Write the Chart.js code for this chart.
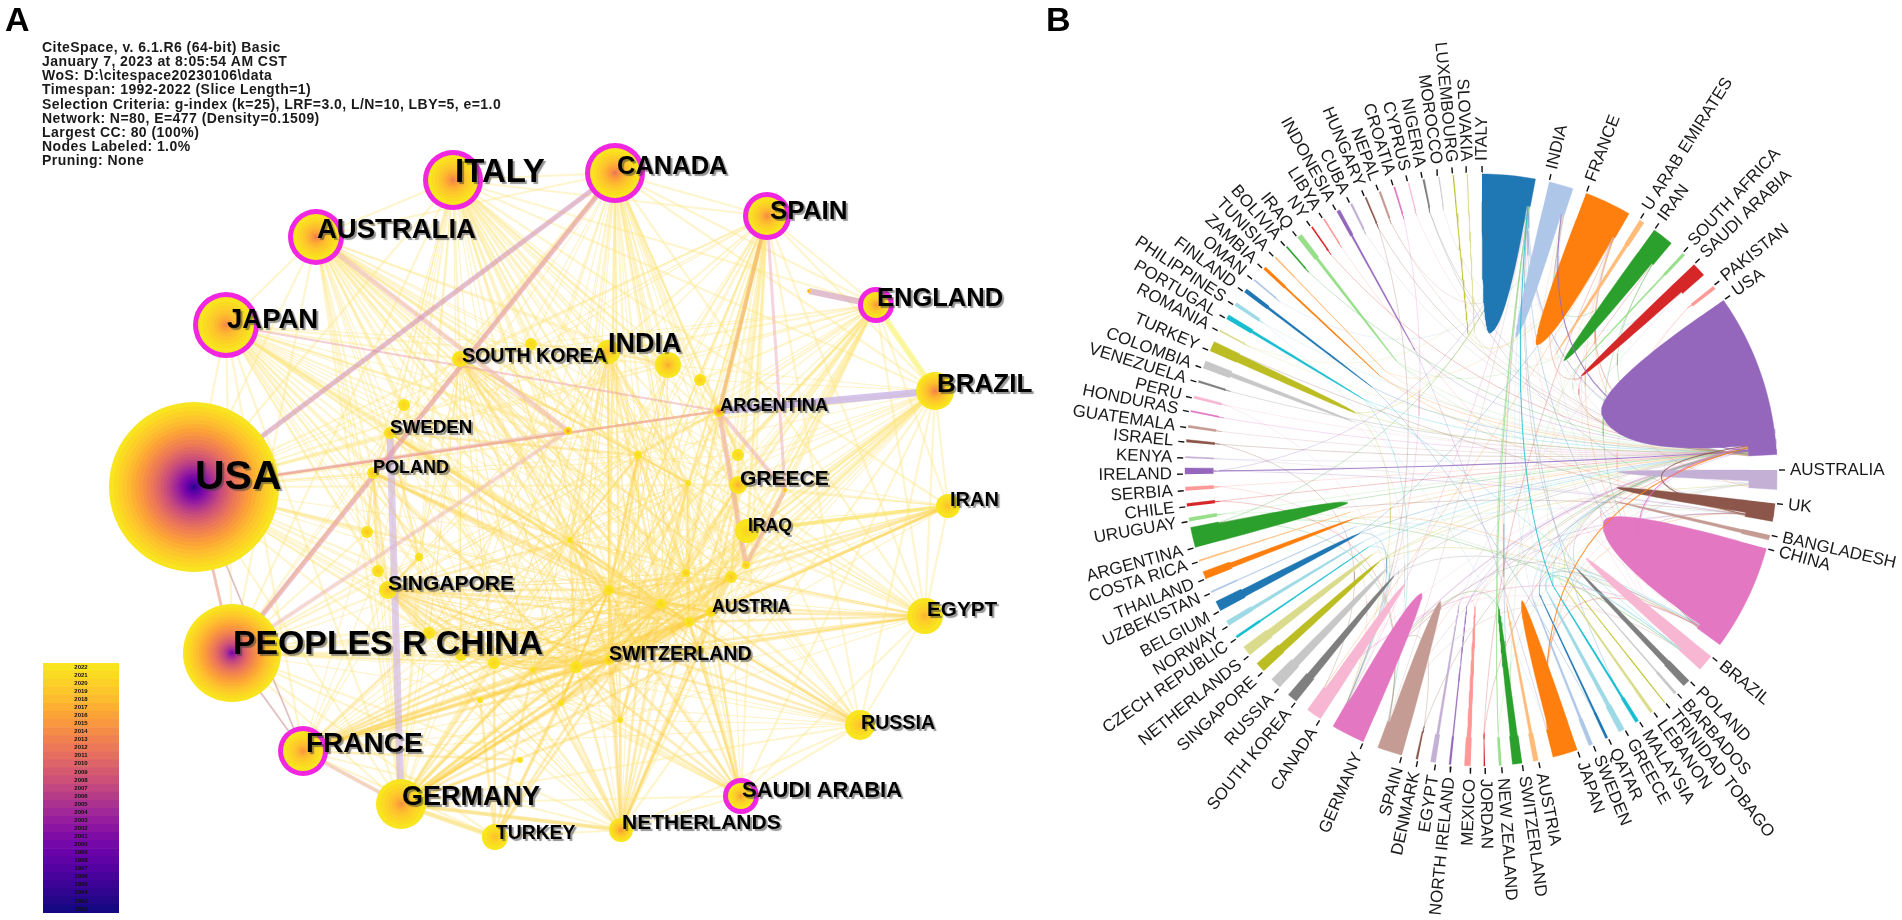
<!DOCTYPE html>
<html>
<head>
<meta charset="utf-8">
<title>Country collaboration</title>
<script src="https://cdn.jsdelivr.net/npm/chart.js@4/dist/chart.umd.js"></script>
<style>
  html, body { margin: 0; padding: 0; background: #fff; overflow: hidden; }
  canvas { position: absolute; display: block; }
  #networkChart { left: 0; top: 0; }
  #yearChart { left: 43px; top: 663px; }
  #chordChart { left: 1000px; top: 0; }
</style>
</head>
<body>
<canvas id="networkChart" width="1040" height="920"></canvas>
<canvas id="yearChart" width="76" height="250"></canvas>
<canvas id="chordChart" width="902" height="920"></canvas>
<script>
// ---- panel A data ----
const infoLines = [
  'CiteSpace, v. 6.1.R6 (64-bit) Basic',
  'January 7, 2023 at 8:05:54 AM CST',
  'WoS: D:\\citespace20230106\\data',
  'Timespan: 1992-2022 (Slice Length=1)',
  'Selection Criteria: g-index (k=25), LRF=3.0, L/N=10, LBY=5, e=1.0',
  'Network: N=80, E=477 (Density=0.1509)',
  'Largest CC: 80 (100%)',
  'Nodes Labeled: 1.0%',
  'Pruning: None'
];
const years = [2022,2021,2020,2019,2018,2017,2016,2015,2014,2013,2012,2011,2010,2009,2008,2007,2006,2005,2004,2003,2002,2001,2000,1999,1998,1997,1996,1995,1994,1993,1992];
const yearColors = ['#f8e51f','#fbdb22','#fdd027','#fdc62c','#fdbb30','#fdaf33','#fca338','#f9983f','#f58d48','#f18250','#ec7858','#e56e60','#dd6468','#d55a70','#cc5078','#c24680','#b73c88','#ac3290','#a12898','#961e9e','#8b14a2','#800ca6','#7508a8','#6a04a8','#5f02a6','#5402a2','#48039c','#3c0496','#300590','#240689','#160882'];

const nodeNames = ['USA','PEOPLES R CHINA','ITALY','CANADA','AUSTRALIA','JAPAN','SPAIN','ENGLAND','BRAZIL','FRANCE','GERMANY','SAUDI ARABIA','NETHERLANDS','TURKEY','RUSSIA','EGYPT','IRAN','IRAQ','GREECE','ARGENTINA','INDIA','SOUTH KOREA','SWEDEN','POLAND','SINGAPORE','SWITZERLAND','AUSTRIA'];
const nodeX = [194,232,453,615,316,226,767,876,935,303,401,741,621,495,860,925,948,747,738,719,608,460,390,373,388,609,711,668,531,700,738,731,686,609,661,689,638,688,746,568,404,367,378,419,429,461,494,576,533,561,640,520,785,570,480,700,620,809];
const nodeY = [487,653,180,173,237,325,216,305,391,751,804,796,830,837,725,616,506,531,485,411,352,359,433,473,590,660,612,365,344,380,455,577,573,590,604,622,455,483,565,431,405,532,571,557,633,655,663,667,670,703,650,760,490,540,700,650,720,291];
const nodeSize = [85,49,30,30,28,33,24,18,19,25,25,18,12,13,15,18,12,12,9,6,12,8,6,6,9,5,5,13,6,6,6,6,4,5,5,5,4,3,4,4,6,6,6,4,6,6,6,6,3,3,4,3,2,3,3,4,3,2];
const nodeFirstYear = [1992,1999,2012,2011,2012,2013,2013,2014,2012,2014,2014,2015,2014,2018,2018,2017,2018,2020,2016,2010,2018,2018,2018,2018,2018,2017,2018,2016,2020,2019,2020,2018,2018,2020,2020,2020,2020,2020,2017,2012,2020,2018,2019,2020,2020,2020,2020,2020,2020,2020,2020,2020,2013,2020,2020,2020,2020,2012];
const hubNodes = [2,3,4,5,6,7,9,11];

const labelX = [195,233,455,617,317,227,770,877,937,306,402,742,622,496,861,927,950,748,740,720,608,462,390,373,388,609,712];
const labelY = [489,654,182,174,238,328,219,306,392,752,805,797,829,839,729,616,506,531,485,411,352,362,433,473,590,660,612];
const labelSize = [41,33.8,33,25.5,27.5,27.5,26,25.5,26,28,27,22,21,19.3,19.6,20.7,20,17.5,21,18.2,27,19.6,18.8,18,21,19.6,17.6];

// one list of neighbours per source node
const linkFrom = [0,1,2,3,4,5,6,7,8,9,10,11,12,13,14,15,16,17,18,19,20,21,22,23,24,25,26,33,34,35,36,47,50];
const linkTo = [
  [2,3,4,5,6,7,8,9,10,1,19,22,23,24,27,20,41,44,12,11,25,18],
  [3,2,4,5,23,24,10,44,45,46,47,25,12,13,51,9,41,42],
  [3,4,6,7,8,10,19,20,21,24,25,26,27,28,33,34,35,36,47,50,53,17,18,16,15,14],
  [4,6,7,8,10,19,21,22,23,25,26,27,33,34,35,50,53,12,17,18,15,14,11],
  [5,10,21,22,23,24,25,33,34,35,36,39,47,50,53,12,26,27,48,18,17,14,15],
  [21,22,23,24,25,33,34,35,36,39,47,50,53,12,10,26,27,48,9,15],
  [7,8,19,20,17,18,25,26,33,34,35,50,38,31,30,12,10,14,15,11],
  [8,19,20,29,30,31,33,34,35,38,25,26,12,10,17,18,16,15],
  [15,16,17,18,19,26,31,34,35,50,14,25,12,10,11,38],
  [10,25,33,34,35,50,46,47,48,13,12,24,44,51,55,26],
  [12,13,25,33,34,35,46,47,48,49,50,51,54,55,56,24,26,14,11,31],
  [12,14,25,34,35,50,55,56,15,26,47],
  [13,25,33,34,35,47,48,49,50,55,56,14,26,31],
  [46,48,49,54,25,34,47],
  [35,50,55,26,15,34,25],
  [26,31,35,34,50,55,16,17,18],
  [17,18,26,31,35,38],
  [31,35,34,26],
  [30,31,32,35,34,26],
  [29,30,32,36,37,38],
  [27,28,36,33,34,37,53],
  [28,36,39,33,53,34],
  [40,23,36,53,43,33,34,35],
  [24,43,41,42,33,34,35,47,53],
  [43,44,45,33,34,35,46,47,48,53,25],
  [26,33,34,35,45,46,47,48,49,50,53,54,55,56,31,32,36,37],
  [33,34,35,50,55,47,31,32],
  [34,35,47,48,49,50,53,36,37,32,31],
  [35,47,48,49,50,53,37,32,31],
  [47,48,50,53,37,32,31,55],
  [37,53,33,32],
  [48,49,54,50,53,56],
  [53,55,56,31,32]
];
// the weaker links, drawn thin
const thinFrom = [0,1,2,3,4,5,6,7,8,9,10,11,12,14,15,16,20,21,24,25,33,34,35,47,48,50,53,31,32,45,46];
const thinTo = [
  [28,30,36,39,40,41,42,43,45,46,47,53,33,34,35,26],
  [40,43,33,34,35,26,48,49,53,50,31,22,21,19,39],
  [30,31,32,37,38,39,40,41,42,43,45,46,48,49,55,56,29,22,23],
  [28,29,30,31,32,36,37,38,39,45,46,47,48,49,55,56,24,41],
  [28,29,30,31,32,37,38,41,42,43,45,46,49,55,56],
  [28,30,31,32,37,38,41,42,43,44,45,46,49,55],
  [27,28,29,32,36,37,47,48,49,53,55,56,21,22,24],
  [27,28,32,36,37,47,48,49,53,55,56,21,24],
  [29,30,32,33,36,37,47,48,49,53,55,56,27],
  [36,37,41,42,43,45,49,53,54,56,31,32,14],
  [32,36,37,41,42,43,44,45,53,21,22,23,27],
  [31,32,33,36,37,48,49,53,45,46],
  [32,36,37,41,44,45,46,53,54,24],
  [31,32,33,36,37,47,48,49,53,56],
  [32,33,36,37,47,48,49,53,56,25],
  [25,32,33,34,36,37,47,48,53,55],
  [25,26,31,32,47,48,49,50,44,45,46,24],
  [25,26,31,32,35,37,43,44,45,46,47,48],
  [26,31,32,36,37,49,50,51,54,55],
  [24,27,28,29,30],
  [46,45,44,55,56,26,27],
  [45,46,44,55,56,36,27],
  [45,46,44,56,36,33],
  [45,46,44,31,32,55],
  [45,46,44,31,32,55],
  [45,46,44,36,37],
  [45,46,44,31,32,37,36],
  [32,37,38,45,46],
  [37,38,45,46],
  [46,44,43],
  [44,43,48]
];
// the heavy coloured links
const heavyFrom = [0,1,22,8,0,0,4,5,1,0,19,19,52,6,6,7,16,10,8,9,0,1,10];
const heavyTo = [3,3,10,19,19,1,39,19,39,39,38,52,38,19,52,57,17,12,7,10,9,9,13];
const heavyWidth = [5,5,7,7,2.5,3,5,2,4,3,5,4,4,4,3,6,4,4,6,4,1.5,1.5,5];
const heavyColor = ['rgba(205,140,190,.55)','rgba(225,150,170,.6)','rgba(208,182,228,.65)','rgba(205,185,230,.85)','rgba(235,150,140,.6)','rgba(235,160,160,.6)','rgba(235,180,185,.5)','rgba(235,160,170,.5)','rgba(235,185,190,.5)','rgba(235,190,190,.5)','rgba(235,170,170,.55)','rgba(235,175,180,.55)','rgba(235,170,150,.6)','rgba(240,170,90,.6)','rgba(235,170,190,.5)','rgba(215,170,190,.75)','rgba(250,225,90,.6)','rgba(250,220,110,.6)','rgba(250,245,130,.7)','rgba(235,180,170,.5)','rgba(190,130,210,.5)','rgba(190,130,210,.5)','rgba(250,225,120,.6)'];

// ---- panel B data, clockwise from USA; angles in degrees from 12 o'clock ----
const groupNames = ['USA','AUSTRALIA','UK','BANGLADESH','CHINA','BRAZIL','POLAND','BARBADOS','TRINIDAD TOBAGO','LEBANON','MALAYSIA','GREECE','QATAR','SWEDEN','JAPAN','AUSTRIA','SWITZERLAND','NEW ZEALAND','JORDAN','MEXICO','NORTH IRELAND','EGYPT','DENMARK','SPAIN','GERMANY','CANADA','SOUTH KOREA','RUSSIA','SINGAPORE','NETHERLANDS','CZECH REPUBLIC','NORWAY','BELGIUM','UZBEKISTAN','THAILAND','COSTA RICA','ARGENTINA','URUGUAY','CHILE','SERBIA','IRELAND','KENYA','ISRAEL','GUATEMALA','HONDURAS','PERU','VENEZUELA','COLOMBIA','TURKEY','ROMANIA','PORTUGAL','PHILIPPINES','FINLAND','OMAN','ZAMBIA','TUNISIA','BOLIVIA','IRAQ','NY','LIBYA','INDONESIA','CUBA','HUNGARY','NEPAL','CROATIA','CYPRUS','NIGERIA','MOROCCO','LUXEMBOURG','SLOVAKIA','ITALY','INDIA','FRANCE','U ARAB EMIRATES','IRAN','SOUTH AFRICA','SAUDI ARABIA','PAKISTAN'];
const groupStart = [55,90,96.5,102.7,105.4,129,135.3,138.7,141.6,144.5,147.8,151,154.6,157.8,161,168.8,172,176,179.2,182,185.8,188.8,192.3,195.5,203.4,212.8,218.6,222.8,227.2,231.3,235.4,238.3,241.6,245.5,248.4,252,254.8,260,262.9,266,269.2,272.3,275.4,278.2,281.3,284,287.2,290.1,293.7,297.9,300.7,303.7,306.9,309.8,312.7,315.8,318.8,321.7,325,327.8,330.8,333.8,336.9,339.8,342.8,345.7,348.6,351.7,354.5,357.2,0.2,13.3,20.8,32.4,35.8,42.9,46,51.6];
const groupSize = [32,3.8,3.5,1,20.8,3.3,1.5,.5,.2,.6,.7,1.2,.5,.8,4.9,1,1.9,.5,.3,1.2,.4,1,.4,4.9,6.6,3.1,2,2.2,2,2,.5,1,2,.3,1.5,.3,4,.7,.6,.7,1.2,.3,.5,.5,.3,.5,.4,1.5,2,.3,.9,.7,.8,.3,.6,.3,.3,1,.3,.3,.7,.4,.3,.4,.3,.2,.4,.2,.2,.2,10.4,4.8,9.2,1,4.2,.6,2.8,.7];
// share of each sector that carries on past the outer strip
const groupShare = [.93,.6,.75,.7,.95,.85,.8,.5,.9,.8,.6,.7,.7,.6,.9,.6,.8,.4,.3,.7,.5,.5,.4,.9,.95,.85,.8,.8,.85,.8,.6,.7,.8,.5,.7,.6,.92,.4,.4,.3,.25,.2,.25,.25,.25,.25,.3,.6,.85,.4,.6,.4,.6,.4,.6,.5,.4,.6,.4,.4,.5,.4,.4,.35,.4,.3,.35,.3,.6,.6,.93,.85,.95,.7,.9,.5,.85,.4];
const chordTo = [[70,71,4,24,72],[0,4,70,14],[0,4,36,48],[0,4],[0,14,25],[0,72,25,70],[0,24,70],[0],[0],[0,72],[0,4,70],[0,70,5],[0,4],[0,70,1],[0,4,2],[24,70,0],[0,24,70],[1,70],[0,72],[0,23],[2,0],[0,76],[0,24],[0,70,5],[0,70,2],[0,4],[0,4],[0,24],[4,0,1],[0,24],[24,0],[0,2],[0,72,24],[4],[0,4],[0],[0,23,70,5],[0,5],[0,23],[0,24],[0,2,70],[0,2],[0,25],[0],[0],[0,23],[0],[0,23],[0,24,70],[0,70],[0,23,5],[0,14],[0,12],[71],[0,2],[0,72],[0],[0,2,76],[0],[4],[0,14],[0],[0,24],[0,71],[24],[0],[0,2],[72],[72],[0],[0,4,10,16],[0,4,76],[0,25,1,4],[0,71],[0,4,71],[0,16],[0,71,74],[0,4]];
const strongFrom = [0,10,12,17,14,4,11,40,2];
const strongTo = [71,70,52,70,0,0,5,0,0];
const tab20 = ['#1f77b4','#aec7e8','#ff7f0e','#ffbb78','#2ca02c','#98df8a','#d62728','#ff9896','#9467bd','#c5b0d5','#8c564b','#c49c94','#e377c2','#f7b6d2','#7f7f7f','#c7c7c7','#bcbd22','#dbdb8d','#17becf','#9edae5'];

const sharedOptions = {
  responsive: false,
  animation: false,
  events: [],
  layout: { padding: 0, autoPadding: false },
  plugins: { legend: { display: false }, tooltip: { enabled: false }, title: { display: false } }
};
const hiddenAxis = (min, max, reverse = false) => ({ type: 'linear', display: false, min, max, reverse, grid: { display: false } });
const lineSet = (points, color, width) => ({ type: 'scatter', data: points, showLine: true, borderColor: color, borderWidth: width, pointRadius: 0, fill: false, tension: 0 });

// ---- panel A ----
function nodeDataset(i) {
  const points = [], colors = [];
  let r = nodeSize[i];
  if (hubNodes.includes(i)) {
    points.push({ x: nodeX[i], y: nodeY[i], r });
    colors.push('#f026e0');
    r -= 5;
  }
  const span = 2022 - nodeFirstYear[i] + 1;
  for (let y = 2022; y >= nodeFirstYear[i]; y--) {
    points.push({ x: nodeX[i], y: nodeY[i], r: r * Math.pow((y - nodeFirstYear[i] + 1) / span, 1.7) });
    colors.push(yearColors[years.indexOf(y)]);
  }
  return { type: 'bubble', data: points, backgroundColor: colors, borderWidth: 0 };
}

const nodePoint = i => ({ x: nodeX[i], y: nodeY[i] });
const networkSets = [];
nodeX.forEach((_, i) => networkSets.push(nodeDataset(i)));
heavyFrom.forEach((from, i) => networkSets.push(lineSet([nodePoint(from), nodePoint(heavyTo[i])], heavyColor[i], heavyWidth[i])));
linkFrom.forEach((from, k) => {
  linkTo[k].forEach(to => {
    // links among the inner nodes read stronger than the fans from the outer ring
    const inner = from >= 20 || to >= 25 && from >= 9;
    networkSets.push(lineSet([nodePoint(from), nodePoint(to)], inner ? 'rgba(253,205,60,.36)' : 'rgba(253,228,120,.36)', inner ? 2.6 : 2.2));
  });
});
thinFrom.forEach((from, k) => {
  thinTo[k].forEach(to => {
    networkSets.push(lineSet([nodePoint(from), nodePoint(to)], from >= 20 ? 'rgba(253,205,70,.42)' : 'rgba(253,225,120,.42)', 1.1));
  });
});

const networkLabels = {
  id: 'networkLabels',
  afterDatasetsDraw(chart) {
    const { ctx, scales: { x, y } } = chart;
    ctx.save();
    ctx.textBaseline = 'alphabetic';
    ctx.textAlign = 'left';
    ctx.fillStyle = '#000';
    ctx.font = 'bold 34px "Liberation Sans"';
    ctx.fillText('A', 5, 31);
    ctx.fillStyle = '#1a1a1a';
    ctx.font = 'bold 14px "Liberation Sans"';
    ctx.letterSpacing = '0.45px';
    infoLines.forEach((line, i) => ctx.fillText(line, 42, 52 + i * 14.15));
    ctx.letterSpacing = '0px';
    ctx.fillStyle = '#000';
    ctx.shadowColor = 'rgba(60,60,60,.55)';
    ctx.shadowOffsetX = 2;
    ctx.shadowOffsetY = 2;
    ctx.shadowBlur = 1;
    nodeNames.forEach((name, i) => {
      ctx.font = `bold ${labelSize[i]}px "Liberation Sans"`;
      ctx.fillText(name, x.getPixelForValue(labelX[i]), y.getPixelForValue(labelY[i]));
    });
    ctx.restore();
  }
};

new Chart(document.getElementById('networkChart'), {
  type: 'scatter',
  data: { datasets: networkSets },
  options: { ...sharedOptions, scales: { x: hiddenAxis(0, 1040), y: hiddenAxis(0, 920, true) } },
  plugins: [networkLabels]
});

// ---- colour bar ----
const yearLabels = {
  id: 'yearLabels',
  afterDatasetsDraw(chart) {
    const { ctx, scales: { y } } = chart;
    ctx.save();
    ctx.font = 'bold 6px "Liberation Sans"';
    ctx.textAlign = 'center';
    ctx.textBaseline = 'middle';
    ctx.fillStyle = '#111';
    years.forEach((year, i) => ctx.fillText(String(year), 38, y.getPixelForValue(i)));
    ctx.restore();
  }
};

new Chart(document.getElementById('yearChart'), {
  type: 'bar',
  data: {
    labels: years.map(String),
    datasets: [{ data: years.map(() => 1), backgroundColor: yearColors, barPercentage: 1, categoryPercentage: 1, borderWidth: 0 }]
  },
  options: {
    ...sharedOptions,
    indexAxis: 'y',
    scales: { x: hiddenAxis(0, 1), y: { type: 'category', display: false } }
  },
  plugins: [yearLabels]
});

// ---- panel B ----
const OUTER = 296, STRIP = 268, TIP = 137;
const polar = (r, deg) => ({ x: r * Math.sin(deg * Math.PI / 180), y: -r * Math.cos(deg * Math.PI / 180) });
const groupColor = i => tab20[((i + 8) % 78) % 20];

function quadTo(points, p0, c, p1, steps) {
  for (let s = 1; s <= steps; s++) {
    const t = s / steps, u = 1 - t;
    points.push({ x: u * u * p0.x + 2 * u * t * c.x + t * t * p1.x, y: u * u * p0.y + 2 * u * t * c.y + t * t * p1.y });
  }
}

const tipRadius = i => groupShare[i] < 0.5 ? STRIP - 6 : (i === 0 || i === 4 ? 133 : TIP);

function wedgePoints(i) {
  const a0 = groupStart[i], size = groupSize[i], a1 = a0 + size, share = groupShare[i];
  const innerStart = size < 2.5 ? a0 + size * (1 - share) / 2 : a0;
  const innerEnd = innerStart + size * share;
  const tipAngle = innerStart + (innerEnd - innerStart) * 0.35;
  const tip = polar(tipRadius(i), tipAngle);
  const ctrlR = tipRadius(i) * 1.04;
  const pts = [];
  const arcSteps = Math.max(2, Math.ceil(size));
  for (let s = 0; s <= arcSteps; s++) pts.push(polar(OUTER, a0 + size * s / arcSteps));
  pts.push(polar(STRIP, a1));
  pts.push(polar(STRIP, innerEnd));
  quadTo(pts, polar(STRIP, innerEnd), polar(ctrlR, innerEnd), tip, 24);
  quadTo(pts, tip, polar(ctrlR, innerStart), polar(STRIP, innerStart), 24);
  pts.push(polar(STRIP, a0));
  return pts;
}

// chords land side by side in the notch of the target sector
const incoming = groupNames.map(() => 0);
const landed = groupNames.map(() => 0);
chordTo.forEach(list => list.forEach(t => incoming[t]++));

function chordPoints(from, to) {
  const big = groupSize[from] >= 3;
  const startA = big ? groupStart[from] + groupSize[from] * (groupShare[from] + 1) / 2 : groupStart[from] + groupSize[from] / 2;
  const startR = big ? STRIP : tipRadius(from);
  const notch0 = groupStart[to] + groupSize[to] * groupShare[to];
  const notchW = groupSize[to] * (1 - groupShare[to]);
  const endA = notch0 + notchW * (landed[to] + 0.5) / Math.max(incoming[to], 1);
  landed[to]++;
  let diff = ((endA - startA) % 360 + 360) % 360;
  if (diff > 180) diff -= 360;
  const ctrl = polar(OUTER * 0.35 * (1 - Math.abs(diff) / 180), startA + diff / 2);
  const p0 = polar(startR, startA), p1 = polar(STRIP, endA);
  const pts = [p0];
  quadTo(pts, p0, ctrl, p1, 20);
  return pts;
}

const strongSets = [], faintSets = [], wedgeSets = [], tickSets = [];
chordTo.forEach((list, from) => {
  list.forEach(to => {
    const strong = strongFrom.some((f, k) => f === from && strongTo[k] === to);
    const set = lineSet(chordPoints(from, to), groupColor(from) + (strong ? 'c8' : '48'), strong ? 1.1 : 0.9);
    (strong ? strongSets : faintSets).push(set);
  });
});
groupNames.forEach((_, i) => {
  const color = groupColor(i);
  wedgeSets.push({ ...lineSet(wedgePoints(i), color, 0.4), fill: 'shape', backgroundColor: color });
  tickSets.push(lineSet([polar(OUTER + 2, groupStart[i]), polar(OUTER + 8, groupStart[i])], '#111', 1.4));
});

const chordLabels = {
  id: 'chordLabels',
  afterDatasetsDraw(chart) {
    const { ctx, scales: { x, y } } = chart;
    ctx.save();
    ctx.fillStyle = '#000';
    ctx.font = 'bold 34px "Liberation Sans"';
    ctx.textAlign = 'left';
    ctx.textBaseline = 'alphabetic';
    ctx.fillText('B', 46, 31);
    ctx.fillStyle = '#1a1a1a';
    ctx.font = '17px "Liberation Sans"';
    ctx.textBaseline = 'middle';
    const cx = x.getPixelForValue(0), cy = y.getPixelForValue(0);
    groupNames.forEach((name, i) => {
      const a = groupStart[i];
      ctx.save();
      ctx.translate(cx, cy);
      if (a < 180) {
        ctx.rotate((a - 90) * Math.PI / 180);
        ctx.textAlign = 'left';
        ctx.fillText(name, OUTER + 13, 0);
      } else {
        ctx.rotate((a + 90) * Math.PI / 180);
        ctx.textAlign = 'right';
        ctx.fillText(name, -(OUTER + 13), 0);
      }
      ctx.restore();
    });
    ctx.restore();
  }
};

new Chart(document.getElementById('chordChart'), {
  type: 'scatter',
  data: { datasets: [...tickSets, ...strongSets, ...wedgeSets, ...faintSets] },
  options: { ...sharedOptions, scales: { x: hiddenAxis(-481, 421), y: hiddenAxis(-470, 450, true) } },
  plugins: [chordLabels]
});
</script>
</body>
</html>
